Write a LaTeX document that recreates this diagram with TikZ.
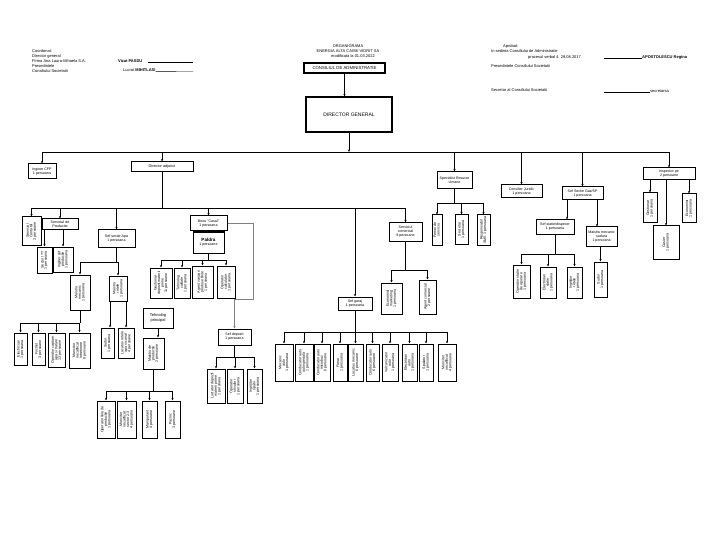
\documentclass[tikz,border=0pt]{standalone}
\usepackage{fontspec}
\setmainfont{Liberation Sans}
\usepackage{graphicx}
\usetikzlibrary{arrows.meta}
\tikzset{
 bx/.style={draw,line width=1pt,inner sep=0.4pt,align=center,font=\fontsize{3.6}{4}\selectfont},
 arr/.style={line width=0.8pt,-{Stealth[length=2.6pt,width=2.2pt]}},
 ln/.style={line width=0.9pt},
 hdr/.style={font=\fontsize{4}{4.8}\selectfont,inner sep=0,anchor=west},
}
\renewcommand{\arraystretch}{0.8}
\newcommand\B[7][]{\node[bx,#1,minimum width={#5-#3},minimum height={#6-#4}] (#2) at ({(#3+#5)/2},{-(#4+#6)/2}) {#7};}
\newcommand\V[7][]{\B[#1]{#2}{#3}{#4}{#5}{#6}{\rotatebox{90}{\begin{tabular}{@{}c@{}}#7\end{tabular}}}}
\newcommand\drop[2]{\draw[arr] (#2.north |- #1) -- (#2.north);}
\begin{document}
\begin{tikzpicture}[x=1pt,y=1pt]
\useasboundingbox (0,0) rectangle (720,-540);
\fill[white] (0,0) rectangle (720,-540);

% ---------- header ----------
\node[hdr] (h1) at (32,-51) {Coordonat:};
\node[hdr] (h2) at (32,-56) {Director general};
\node[hdr] (h3) at (32,-61) {Firma Ana Laura-Mihaela S.A.};
\node[hdr] (h4) at (32,-66) {Presedintele};
\node[hdr] (h5) at (32,-71) {Consiliului Societatii};
\node[hdr] (h6) at (118,-61) {\bfseries Vizat PASDU};
\draw[line width=0.4pt] (148,-62.5) -- (193,-62.5);
\node[hdr] (h7) at (123,-70) {Lucrat \textbf{MIHITLASI}};
\draw[line width=0.4pt] (h7.south east) -- (193,-71.5);

\node[font=\fontsize{4}{5}\selectfont,align=center,inner sep=0] (t1) at (348,-51)
 {ORGANIGRAMA\\ENERGIA ALTA CAISE-VIDRIT SA\\\hspace*{10pt}modificata la 01.03.2022};

\node[hdr] (r0) at (503,-46) {Aprobat:};
\node[hdr] (r1) at (491,-51) {In sedinta Consiliului de Administratie};
\node[hdr] (r2) at (528,-57) {procesul verbal 4 \ 29.08.2017};
\draw[line width=0.4pt] (604,-58.5) -- (642,-58.5);
\node[hdr] (r3) at (642,-57) {\bfseries APOSTOLESCU Regina};
\node[hdr] (r4) at (491,-66) {Presedintele Consiliului Societatii};
\node[hdr] (r5) at (491,-90) {Secretar al Consiliului Societatii};
\draw[line width=0.4pt] (604,-92.5) -- (650,-92.5);
\node[hdr] (r6) at (650,-91) {secretarsa};

% ---------- top ----------
\B[line width=1.2pt,font=\fontsize{4.3}{5}\selectfont]{CA}{304}{63}{385}{73}{CONSILIUL DE ADMINISTRATIE}
\B[line width=1.2pt,font=\fontsize{5}{6}\selectfont]{DG}{306}{97}{392}{132}{DIRECTOR GENERAL}
\draw[arr] (CA.south) -- (CA.south |- DG.north);
\coordinate (m1) at (42,-152); \coordinate (m2) at (669,-152);
\draw[ln] (m1) -- (m2);
\draw[arr] (DG.south) -- (DG.south |- m1);

\B{ICF}{28}{164}{56}{179}{Inginer CFP\\1 persoana}
\B[font=\fontsize{3.8}{4.4}\selectfont]{DA}{131}{162}{193}{172}{Director adjunct}
\B{SRU}{437}{172}{472}{189}{Specialist Resurse\\Umane}
\B{CJ}{501}{185}{542}{198}{Consilier Juridic\\1 persoana}
\B{SSG}{562}{187}{603}{200}{Sef Sectie Gaz/SP\\1 persoana}
\B{Insp}{643}{168}{695}{180}{Inspector pe\\2 persoane}
\drop{m1}{ICF}\drop{m1}{DA}\drop{m1}{SRU}\drop{m1}{CJ}\drop{m1}{SSG}\drop{m1}{Insp}

% ---------- director adjunct ----------
\coordinate (d1) at (31.5,-208); \coordinate (d2) at (405.5,-208);
\draw[ln] (DA.south) -- (DA.south |- d1);
\draw[ln] (d1) -- (d2);
\V{Cont}{22}{217}{41}{245}{Serviciul\\Contabil\\3 persoane}
\B[font=\fontsize{3.6}{4.1}\selectfont]{SPr}{42}{219}{78}{230}{Serviciul de\\Productie}
\B{SAp}{98}{230}{135}{247}{Sef sectie Apa\\1 persoana}
\B{Cas}{190}{216}{227}{231}{Birou "Casal"\\1 persoana}
\B{SG}{338}{297}{372}{310}{Sef garaj\\1 persoana}
\B{SC}{389}{223}{422}{241}{Serviciul\\comercial\\9 persoane}
\drop{d1}{Cont}\drop{d1}{SPr}\drop{d1}{SAp}\drop{d1}{Cas}\drop{d1}{SG}\drop{d1}{SC}

% productie
\V{PA}{37}{247}{52}{273}{Sector ITT\\1 persoana}
\V{PB}{53}{247}{73}{272}{Inginer sef\\productie\\1 persoana}
\draw[arr] (SPr.south -| PA) -- (PA.north);
\draw[arr] (SPr.south -| PB) -- (PB.north);

% sectie apa
\V{MM}{70}{275}{90}{310}{Maistru\\mecanic\\1 persoana}
\V{MR}{109}{276}{127}{301}{Maistru\\retele\\1 persoana}
\coordinate (a1) at (80,-262); \coordinate (a2) at (118,-262);
\draw[ln] (SAp.south) -- (SAp.south |- a1);
\draw[ln] (a1) -- (a2);
\drop{a1}{MM}\drop{a1}{MR}

\V{M1}{14}{333}{27}{365}{Electrician\\1 persoana}
\V{M2}{32}{333}{45}{365}{Fochist\\3 persoane}
\V{M3}{48}{333}{65}{367}{Operator captare\\apa si tratare\\13 persoane}
\V{M4}{69}{333}{90}{368}{Muncitor\\necalificat\\intretinere\\8 persoane}
\coordinate (e1) at (20.5,-323); \coordinate (e2) at (79.5,-323);
\draw[ln] (MM.south) -- (MM.south |- e1);
\draw[ln] (e1) -- (e2);
\drop{e1}{M1}\drop{e1}{M2}\drop{e1}{M3}\drop{e1}{M4}

\V{R1}{101}{328}{114}{358}{Sudor\\1 persoana}
\V{R2}{118}{328}{134}{358}{Lacatus retele\\apa si canal\\4 persoane}
\draw[arr] (MR.south -| 110,0) -- (110,0 |- R1.north);
\draw[arr] (MR.south -| 126,0) -- (126,0 |- R2.north);

% casal / paldra
\B{Pal}{193}{232}{224}{253}{{\fontsize{4.6}{5}\selectfont\bfseries Paldra}\\1 persoane}
\draw[ln] (Cas.south) -- (Pal.north);
\V{P1}{150}{268}{172}{298}{Gestionar\\depozit materii\\prime\\11 persoane}
\V{P2}{174}{268}{190}{298}{Tehnolog\\calitate\\1 persoana}
\V{P3}{192}{266}{213}{298}{Agent vanzari\\produse finite\\1 persoana}
\V{P4}{217}{266}{235}{298}{Operator\\calculator\\1 persoana}
\coordinate (p1) at (161,-260); \coordinate (p2) at (226,-260);
\draw[ln] (Pal.south) -- (Pal.south |- p1);
\draw[ln] (p1) -- (p2);
\drop{p1}{P1}\drop{p1}{P2}\drop{p1}{P3}\drop{p1}{P4}

\B[font=\fontsize{4}{4.6}\selectfont]{Teh}{143}{308}{173}{328}{Tehnolog\\principal}
\V{MP}{143}{338}{164}{369}{Maistru de\\productie\\2 persoane}
\draw[arr] (Teh.south) -- (Teh.south |- MP.north);
\V{Q1}{97}{401}{115}{438}{Operator linie de\\productie\\1 persoana}
\V{Q2}{117}{401}{136}{438}{Muncitor\\necalificat\\sector 2-3\\4 persoane}
\V{Q3}{142}{401}{157}{438}{Manipulant\\4 persoane}
\V{Q4}{165}{401}{180}{438}{Paznic\\3 persoane}
\coordinate (q1) at (106,-391); \coordinate (q2) at (172.5,-391);
\draw[line width=1.3pt] (MP.south) -- (MP.south |- q1);
\draw[ln] (q1) -- (q2);
\drop{q1}{Q1}\drop{q1}{Q2}\drop{q1}{Q3}\drop{q1}{Q4}

\B{SD}{218}{329}{251}{345}{Sef depozit\\1 persoana}
\draw[arr,gray] (Cas.east) -- (253,-223.5) -- (253,-299) -- (SD.north |- 0,-299) -- (SD.north);
\V{S1}{207}{369}{225}{403}{Lucrator depozit\\materii prime\\1 persoana}
\V{S2}{227}{369}{243}{403}{Operator\\stivuitor\\1 persoana}
\V{S3}{247}{369}{262}{403}{Ingrijitor\\spatii\\1 persoana}
\coordinate (s1) at (216,-357); \coordinate (s2) at (254.5,-357);
\draw[ln] (SD.south) -- (SD.south |- s1);
\draw[ln] (s1) -- (s2);
\drop{s1}{S1}\drop{s1}{S2}\drop{s1}{S3}

% garaj
\V{G1}{275}{344}{293}{381}{Mecanic\\auto\\1 persoana}
\V{G2}{295}{344}{313}{381}{Conducator auto\\autospeciala\\1 persoana}
\V{G3}{314}{344}{330}{381}{Conducator auto\\microbuz\\6 persoane}
\V{G4}{333}{344}{347}{381}{Fierar\\1 persoana}
\V{G5}{348}{344}{363}{381}{Lacatus mecanic\\6 persoane}
\V{G6}{366}{344}{379}{381}{Conducator auto\\6 persoane}
\V{G7}{382}{344}{398}{381}{Vulcanizator\\auto\\1 persoana}
\V{G8}{402}{344}{417}{381}{Electrician\\auto\\1 persoana}
\V{G9}{419}{344}{433}{381}{Spalator\\1 persoana}
\V{G10}{438}{344}{456}{381}{Muncitor\\necalificat\\4 persoane}
\coordinate (g1) at (284,-332); \coordinate (g2) at (447,-332);
\draw[ln] (SG.south) -- (SG.south |- g1);
\draw[ln] (g1) -- (g2);
\foreach \n in {G1,G2,G3,G4,G5,G6,G7,G8,G9,G10} {\drop{g1}{\n}}

% comercial
\V{C1}{381}{283}{402}{314}{Economist\\marketing\\1 persoana}
\V{C2}{419}{280}{436}{314}{Agent comercial\\2 persoane}
\coordinate (c1) at (391.5,-270); \coordinate (c2) at (427.5,-270);
\draw[ln] (SC.south) -- (SC.south |- c1);
\draw[ln] (c1) -- (c2);
\drop{c1}{C1}\drop{c1}{C2}

% resurse umane
\V{U1}{432}{215}{442}{245}{Femei de\\serviciu}
\V{U2}{455}{215}{468}{244}{Secretar\\1 persoana}
\V{U3}{477}{215}{490}{245}{Responsabil\\SMS 1 persoana}
\coordinate (u1) at (437,-203); \coordinate (u2) at (483.5,-203);
\draw[ln] (SRU.south) -- (SRU.south |- u1);
\draw[ln] (u1) -- (u2);
\drop{u1}{U1}\drop{u1}{U2}\drop{u1}{U3}

% sectie gaz
\B{SSt}{536}{220}{574}{234}{Sef statie/dispecer\\1 persoana}
\B{MM2}{586}{227}{617}{246}{Maistru mecanic\\sudura\\1 persoana}
\draw[arr] (SSG.south -| 567,0) -- (567,0 |- SSt.north);
\draw[arr] (SSG.south -| 597,0) -- (597,0 |- MM2.north);
\V{Sud}{594}{262}{607}{297}{Sudor\\1 persoana}
\draw[arr] (MM2.south -| Sud) -- (Sud.north);
\V{T1}{513}{265}{530}{298}{Operator statie\\de epurare\\1 persoana}
\V{T2}{540}{267}{556}{298}{Electrician\\statie\\1 persoana}
\V{T3}{567}{267}{582}{298}{Ingrijitor\\retele\\1 persoana}
\coordinate (k1) at (521.5,-254); \coordinate (k2) at (574.5,-254);
\draw[ln] (SSt.south) -- (SSt.south |- k1);
\draw[ln] (k1) -- (k2);
\drop{k1}{T1}\drop{k1}{T2}\drop{k1}{T3}

% inspector
\V{IG}{643}{193}{657}{223}{Gestionar\\1 persoana}
\V{IC}{653}{226}{679}{259}{Casier\\1 persoana}
\V{IE}{682}{194}{696}{223}{Economist\\1 persoana}
\draw[arr] (Insp.south -| IG) -- (IG.north);
\draw[arr] (Insp.south -| IC) -- (IC.north);
\draw[arr] (Insp.south -| IE) -- (IE.north);
\end{tikzpicture}
\end{document}
